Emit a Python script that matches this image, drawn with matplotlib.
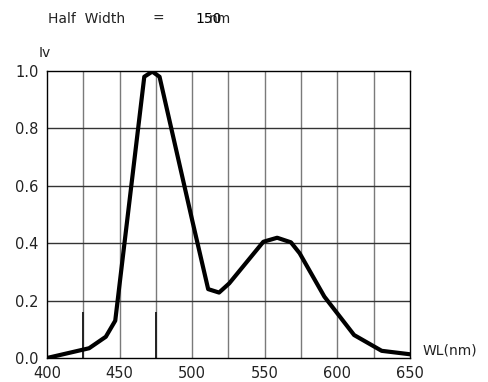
import matplotlib
matplotlib.use("Agg")
import matplotlib.pyplot as plt
import numpy as np

# spectrum
wl = [400, 429, 440.5, 447, 467, 472.5, 477.5, 500, 511, 518.5, 525.5,
      549, 558.5, 568, 574, 591, 611.5, 630.5, 650]
iv = [0.0, 0.034, 0.074, 0.13, 0.98, 0.998, 0.98, 0.48, 0.24, 0.228, 0.26,
      0.405, 0.419, 0.403, 0.365, 0.214, 0.08, 0.025, 0.013]

xticks = [400, 450, 500, 550, 600, 650]
yticks = [0.0, 0.2, 0.4, 0.6, 0.8, 1.0]
xgrid = np.arange(400, 651, 25)
marks = [425, 475]

fig = plt.figure(figsize=(4.88, 3.82), dpi=100)
ax = fig.add_axes([47/488, 24/382, 363/488, 287/382])

for x in xgrid[1:-1]:
    ax.axvline(x, color='#7a7a7a', lw=1.0, zorder=1)
for y in yticks[1:-1]:
    ax.axhline(y, color='#333333', lw=1.0, zorder=1)
ax.vlines(marks, 0, 0.16, color='#222222', lw=1.4, zorder=2)

ax.plot(wl, iv, color='black', lw=3.0, solid_joinstyle='round', zorder=3)

ax.set_xlim(400, 650)
ax.set_ylim(0, 1.0)
ax.set_xticks(xticks)
ax.set_yticks(yticks)
ax.set_xticklabels([str(x) for x in xticks])
ax.set_yticklabels(['%.1f' % y for y in yticks])
ax.tick_params(length=0, labelsize=10.5, colors='#222222', pad=6)
for s in ax.spines.values():
    s.set_color('black')
    s.set_linewidth(1.0)

fig.text(39/488, 1 - 57/382, 'Iv', fontsize=10, color='#222222')
fig.text(423/488, 1 - 355/382, 'WL(nm)', fontsize=10, color='#222222')
fig.text(48/488, 1 - 23/382, 'Half  Width', fontsize=10, color='#222222')
fig.text(152/488, 1 - 23/382, '=', fontsize=10, color='#222222')
fig.text(195/488, 1 - 23/382, '150', fontsize=10, color='black')
fig.text(209/488, 1 - 23/382, 'nm', fontsize=10, color='#222222')

fig.savefig('out.png', dpi=100)
